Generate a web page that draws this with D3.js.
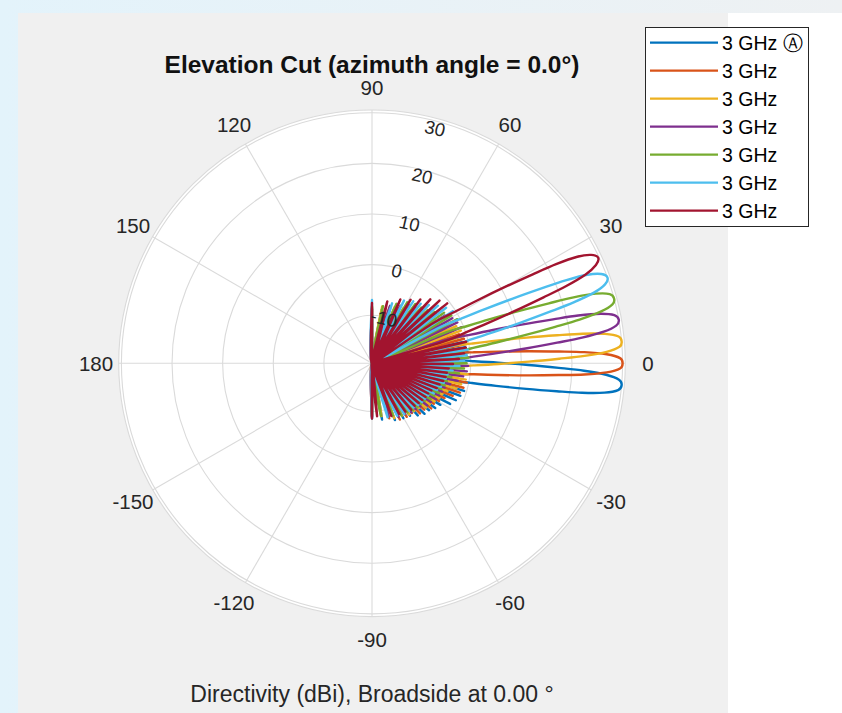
<!DOCTYPE html>
<html><head><meta charset="utf-8">
<script src="https://cdn.jsdelivr.net/npm/d3@7"></script>
<style>
html,body{margin:0;padding:0;background:#fff;}
svg{display:block;font-family:"Liberation Sans",Arial,Helvetica,sans-serif;}
</style></head>
<body><svg id="chart" width="842" height="713"></svg>
<script>
// ---------------- data ----------------
const angleTicks = [0, 30, 60, 90, 120, 150, 180, -150, -120, -90, -60, -30];
const radialTicks = [-10, 0, 10, 20, 30];
const radialMin = -19.5, radialMax = 30;
const seriesNames = ["3 GHz \u24B6", "3 GHz", "3 GHz", "3 GHz", "3 GHz", "3 GHz", "3 GHz"];
const seriesColors = ["#0072BD", "#D95319", "#EDB120", "#7E2F8E", "#77AC30", "#4DBEEE", "#A2142F"];
const NUL = -60; // nulls: below the plot floor (drawn at the centre)

// main lobes: [elevation deg, directivity dBi]
const lobeAngles1 = [-14,-12.5,-11.2,-10.3,-9.4,-8.6,-8,-7.2,-6.2,-5,-3.8,-2.8,-2,-1.4,-0.6,0.3,1.2,2.5,4];
const lobeDb1     = [NUL,-4.6,0.4,5.4,11.4,17.4,22.4,26.8,29.4,30.4,29.4,26.8,22.4,17.4,11.4,5.4,0.4,-4.6,NUL];
const lobeAngles2 = [-9,-7.5,-6.2,-5.3,-4.4,-3.6,-3,-2.2,-1.2,0,1.2,2.2,3,3.6,4.4,5.3,6.2,7.5,9];
const lobeDb2     = [NUL,-4.5,0.5,5.5,11.5,17.5,22.5,26.9,29.5,30.5,29.5,26.9,22.5,17.5,11.5,5.5,0.5,-4.5,NUL];
const lobeAngles3 = [-4,-2.5,-1.2,-0.3,0.6,1.4,2,2.8,3.8,5,6.2,7.2,8,8.6,9.4,10.3,11.2,12.5,14];
const lobeDb3     = [NUL,-4.5,0.5,5.5,11.5,17.5,22.5,26.9,29.5,30.5,29.5,26.9,22.5,17.5,11.5,5.5,0.5,-4.5,NUL];
const lobeAngles4 = [0.86,2.39,3.71,4.62,5.53,6.35,6.95,7.77,8.78,10,11.22,12.23,13.05,13.65,14.47,15.38,16.29,17.61,19.14];
const lobeDb4     = [NUL,-4.7,0.3,5.3,11.3,17.3,22.3,26.7,29.3,30.3,29.3,26.7,22.3,17.3,11.3,5.3,0.3,-4.7,NUL];
const lobeAngles5 = [5.68,7.24,8.58,9.51,10.45,11.27,11.89,12.72,13.76,15,16.24,17.28,18.11,18.73,19.55,20.49,21.42,22.76,24.32];
const lobeDb5     = [NUL,-4.6,0.4,5.4,11.4,17.4,22.4,26.8,29.4,30.4,29.4,26.8,22.4,17.4,11.4,5.4,0.4,-4.6,NUL];
const lobeAngles6 = [10.42,12.02,13.4,14.36,15.32,16.17,16.81,17.66,18.72,20,21.28,22.34,23.19,23.83,24.68,25.64,26.6,27.98,29.58];
const lobeDb6     = [NUL,-4.9,0.1,5.1,11.1,17.1,22.1,26.5,29.1,30.1,29.1,26.5,22.1,17.1,11.1,5.1,0.1,-4.9,NUL];
const lobeAngles7 = [15.07,16.73,18.16,19.15,20.15,21.03,21.69,22.57,23.68,25,26.32,27.43,28.31,28.97,29.85,30.85,31.84,33.27,34.93];
const lobeDb7     = [NUL,-5.2,-0.2,4.8,10.8,16.8,21.8,26.2,28.8,29.8,28.8,26.2,21.8,16.8,10.8,4.8,-0.2,-5.2,NUL];

// side-lobe peaks: [elevation deg, directivity dBi]
const side1 = [[-90,-8.6],[-79.86,-8.2],[-68.01,-7.4],[-60.26,-7.0],[-54.06,-6.7],[-48.70,-5.8],[-43.90,-5.1],[-39.46,-4.9],[-35.27,-4.2],[-31.29,-3.7],[-27.47,-2.1],[-23.78,-1.4],[-20.20,-0.9],[-16.70,-0.5],
  [6.48,-0.4],[9.84,-0.8],[13.23,-1.2],[16.67,-2.3],[20.17,-3.5],[23.76,-4.3],[27.45,-4.6],[31.27,-4.9],[35.24,-5.5],[39.43,-5.8],[43.87,-6.6],[48.66,-7.0],[54.02,-7.1],[60.21,-7.4],[67.95,-7.9],[79.74,-8.8],[90,-10.0]];
const side2 = [[-90,-9.0],[-72.63,-8.1],[-63.68,-7.1],[-56.99,-6.9],[-51.31,-6.9],[-46.26,-5.8],[-41.63,-5.7],[-37.31,-4.8],[-33.23,-4.9],[-29.35,-4.3],[-25.60,-3.6],[-21.97,-2.3],[-18.43,-1.2],[-14.95,-0.8],[-11.54,-0.4],
  [11.54,-0.5],[14.95,-0.7],[18.43,-1.4],[21.97,-2.1],[25.60,-3.4],[29.35,-4.5],[33.23,-4.7],[37.31,-5.0],[41.63,-5.5],[46.26,-5.9],[51.31,-6.7],[56.99,-7.1],[63.68,-7.2],[72.63,-7.9],[90,-8.8]];
const side3 = [[-90,-9.4],[-79.74,-8.9],[-67.95,-7.8],[-60.21,-7.6],[-54.02,-7.0],[-48.66,-6.9],[-43.87,-6.7],[-39.43,-5.7],[-35.24,-5.5],[-31.27,-5.0],[-27.45,-4.5],[-23.76,-4.3],[-20.17,-3.6],[-16.67,-2.1],[-13.23,-1.4],[-9.84,-0.7],[-6.48,-0.5],
  [16.70,-0.4],[20.20,-0.8],[23.78,-1.3],[27.47,-2.2],[31.29,-3.5],[35.27,-4.4],[39.46,-4.8],[43.90,-5.0],[48.70,-5.6],[54.06,-6.6],[60.26,-6.9],[68.01,-7.5],[79.86,-8.1],[90,-8.4]];
const side4 = [[-90,-8.9],[-72.71,-8.5],[-63.73,-7.7],[-57.03,-7.5],[-51.35,-7.1],[-46.29,-7.0],[-41.66,-6.7],[-37.34,-5.8],[-33.26,-5.6],[-29.37,-5.0],[-25.63,-4.8],[-21.99,-4.6],[-18.45,-4.4],[-14.98,-3.5],[-11.56,-2.2],[-8.19,-1.3],[-4.84,-0.7],[-1.51,-0.5],
  [21.95,-0.4],[25.58,-0.8],[29.32,-1.3],[33.21,-2.3],[37.28,-3.5],[41.60,-4.3],[46.23,-4.9],[51.28,-5.5],[56.95,-5.8],[63.63,-6.8],[72.55,-7.6],[90,-8.7]];
const side5 = [[-90,-9.2],[-80.46,-9.0],[-68.32,-8.4],[-60.50,-7.6],[-54.27,-7.5],[-48.88,-7.2],[-44.05,-7.0],[-39.60,-6.9],[-35.41,-6.7],[-31.43,-5.9],[-27.60,-5.6],[-23.91,-5.0],[-20.32,-4.9],[-16.81,-4.5],[-13.37,-4.3],[-9.98,-3.6],[-6.62,-2.2],[-3.28,-1.3],[0.05,-0.8],[3.37,-0.4],
  [27.32,-0.5],[31.13,-1.2],[35.10,-2.1],[39.28,-3.5],[43.71,-4.3],[48.49,-4.8],[53.82,-5.0],[59.97,-5.6],[67.65,-6.8],[79.15,-8.0],[90,-8.3]];
const side6 = [[-90,-8.8],[-73.87,-8.4],[-64.46,-8.0],[-57.60,-7.6],[-51.86,-7.6],[-46.76,-7.5],[-42.10,-7.2],[-37.75,-7.0],[-33.65,-6.9],[-29.74,-6.7],[-25.98,-5.9],[-22.34,-5.6],[-18.79,-5.1],[-15.31,-4.8],[-11.89,-4.6],[-8.51,-4.4],[-5.16,-3.5],[-1.83,-2.2],[1.49,-1.3],[4.82,-0.7],[8.16,-0.4],
  [32.83,-0.5],[36.87,-1.2],[41.16,-2.2],[45.76,-3.4],[50.77,-4.3],[56.38,-4.8],[62.97,-5.6],[71.50,-7.0],[90,-7.0]];
const side7 = [[-90,-8.6],[-84.5,-9.0],[-69.88,-8.4],[-61.71,-8.1],[-55.31,-7.9],[-49.81,-7.5],[-44.88,-7.6],[-40.35,-7.4],[-36.13,-7.2],[-32.11,-7.0],[-28.27,-6.9],[-24.55,-6.6],[-20.94,-5.8],[-17.42,-5.5],[-13.97,-5.0],[-10.57,-4.7],[-7.21,-4.6],[-3.87,-4.3],[-0.54,-3.5],[2.79,-2.3],[6.12,-1.2],[9.48,-0.7],[12.87,-0.4],
  [38.53,-0.5],[42.92,-1.3],[47.64,-2.4],[52.82,-3.7],[58.76,-4.8],[66.09,-5.7],[76.11,-6.9],[90,-7.6]];

const lobeAngles = [lobeAngles1, lobeAngles2, lobeAngles3, lobeAngles4, lobeAngles5, lobeAngles6, lobeAngles7];
const lobeDb = [lobeDb1, lobeDb2, lobeDb3, lobeDb4, lobeDb5, lobeDb6, lobeDb7];
const sides = [side1, side2, side3, side4, side5, side6, side7];

// ---------------- drawing ----------------
const W = 842, H = 713;
const cx = 372, cy = 363.3, R = 250.6, Redge = 253.3;
const svg = d3.select("#chart");
const defs = svg.append("defs");
const grad = defs.append("linearGradient").attr("id", "bg").attr("x1", "0").attr("x2", "1").attr("y1", "0").attr("y2", "0");
grad.append("stop").attr("offset", "0").attr("stop-color", "#e3f3fb");
grad.append("stop").attr("offset", "1").attr("stop-color", "#eef1f3");
svg.append("rect").attr("width", W).attr("height", H).attr("fill", "url(#bg)");
svg.append("rect").attr("x", 18).attr("y", 13).attr("width", 710).attr("height", H - 13).attr("fill", "#f0f0f0");
svg.append("rect").attr("x", 728).attr("y", 13).attr("width", W - 728).attr("height", H - 13).attr("fill", "#ffffff");

const r = d3.scaleLinear().domain([radialMin, radialMax]).range([0, R]).clamp(true);
const toRad = a => (90 - a) * Math.PI / 180;
const g = svg.append("g").attr("transform", `translate(${cx},${cy})`);

g.append("circle").attr("r", Redge).attr("fill", "#ffffff");
const gridColor = "#dadada";
g.selectAll("circle.ring").data(radialTicks).join("circle").attr("class", "ring")
  .attr("r", d => r(d)).attr("fill", "none").attr("stroke", gridColor).attr("stroke-width", 1.1);
g.append("circle").attr("r", Redge).attr("fill", "none").attr("stroke", gridColor).attr("stroke-width", 1.1);
g.selectAll("line.spoke").data(angleTicks).join("line").attr("class", "spoke")
  .attr("x1", 0).attr("y1", 0)
  .attr("x2", d => Redge * Math.sin(toRad(d))).attr("y2", d => -Redge * Math.cos(toRad(d)))
  .attr("stroke", gridColor).attr("stroke-width", 1.1);

// angle labels
g.selectAll("text.ang").data(angleTicks).join("text").attr("class", "ang")
  .attr("x", d => 276 * Math.sin(toRad(d))).attr("y", d => -276 * Math.cos(toRad(d)))
  .attr("text-anchor", "middle").attr("dominant-baseline", "central")
  .attr("font-size", 20.5).attr("fill", "#262626").text(d => d);

// pattern lines
const line = d3.lineRadial()
  .angle(d => toRad(d[0]))
  .radius(d => r(d[1]))
  .curve(d3.curveCardinal.tension(0));

function buildPattern(side, la, ld) {
  const lobe = la.map((a, i) => [a, ld[i]]);
  const start = la[0], end = la[la.length - 1];
  const pts = [[-95, NUL]];
  side.filter(d => d[0] < start).forEach(d => { pts.push(d); pts.push([d[0], NUL]); });
  lobe.slice(1).forEach(d => pts.push(d));
  side.filter(d => d[0] > end).forEach(d => { pts.push(d); pts.push([d[0], NUL]); });
  return pts;
}
const patterns = sides.map((s, i) => buildPattern(s, lobeAngles[i], lobeDb[i]));
g.selectAll("path.pat").data(patterns).join("path").attr("class", "pat")
  .attr("d", d => line(d)).attr("fill", "none")
  .attr("stroke", (d, i) => seriesColors[i]).attr("stroke-width", 2.4)
  .attr("stroke-linejoin", "round").attr("stroke-linecap", "round");

// radial tick labels (drawn on top, like MATLAB)
const labAng = 75 * Math.PI / 180;
g.selectAll("text.rad").data(radialTicks).join("text").attr("class", "rad")
  .attr("transform", d => {
    const rr = r(d) * 0.97;
    return `translate(${rr * Math.cos(labAng)},${-rr * Math.sin(labAng)}) rotate(13)`;
  })
  .attr("text-anchor", "middle").attr("dominant-baseline", "central")
  .attr("font-size", 18.5).attr("fill", "#262626").text(d => d);

// title and caption
svg.append("text").attr("x", cx).attr("y", 73).attr("text-anchor", "middle")
  .attr("font-size", 24.5).attr("font-weight", "bold").attr("fill", "#111")
  .text("Elevation Cut (azimuth angle = 0.0\u00B0)");
svg.append("text").attr("x", cx).attr("y", 702).attr("text-anchor", "middle")
  .attr("font-size", 23).attr("fill", "#262626")
  .text("Directivity (dBi), Broadside at 0.00 \u00B0");

// legend
const lg = svg.append("g");
lg.append("rect").attr("x", 645.5).attr("y", 27.5).attr("width", 163).attr("height", 199)
  .attr("fill", "#ffffff").attr("stroke", "#262626").attr("stroke-width", 1);
const rows = lg.selectAll("g.row").data(seriesNames).join("g").attr("class", "row")
  .attr("transform", (d, i) => `translate(0,${42.7 + i * 28})`);
rows.append("line").attr("x1", 650).attr("x2", 718).attr("y1", 0).attr("y2", 0)
  .attr("stroke", (d, i) => seriesColors[i]).attr("stroke-width", 2.3);
rows.append("text").attr("x", 722).attr("y", 0).attr("dominant-baseline", "central")
  .attr("font-size", 19.5).attr("fill", "#000").text(d => d);
</script></body></html>
